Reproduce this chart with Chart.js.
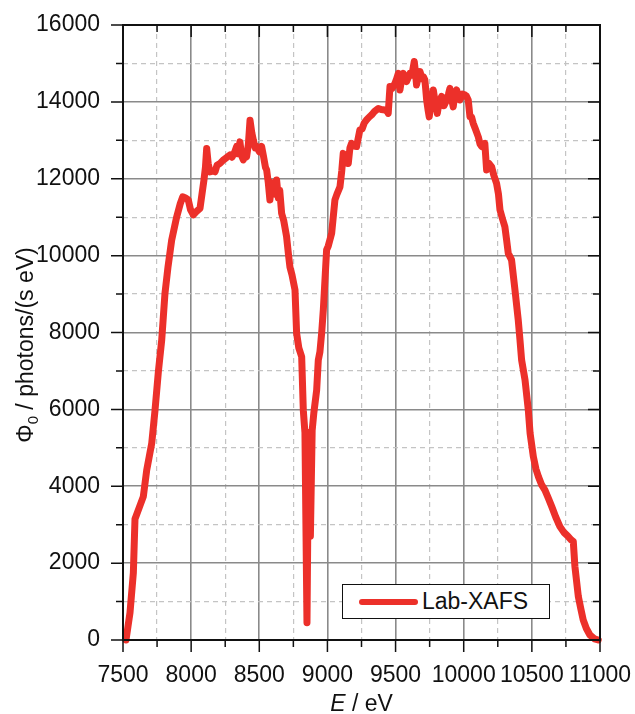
<!DOCTYPE html>
<html>
<head>
<meta charset="utf-8">
<script src="https://cdn.jsdelivr.net/npm/chart.js@4.4.1/dist/chart.umd.min.js"></script>
<style>
  body { margin: 0; background: #fff; }
  #wrap { position: relative; width: 635px; height: 714px; }
  #legend {
    position: absolute; left: 342px; top: 584px; width: 206px; height: 33px;
    border: 1.5px solid #111; background: #fff;
    font: 23px "Liberation Sans", Arial, sans-serif; color: #111;
  }
  #legend .swatch {
    position: absolute; left: 16px; top: 14px; width: 59px; height: 6px;
    border-radius: 3px;
  }
  #legend .txt { position: absolute; left: 79px; top: 3px; }
</style>
</head>
<body>
<div id="wrap">
  <canvas id="myChart" width="635" height="714"></canvas>
  <div id="legend"><span class="swatch"></span><span class="txt"></span></div>
</div>
<script>
// Data: photon energy (eV) and flux
const energy = [
  7522, 7551, 7576, 7588, 7649, 7674, 7711, 7735, 7760, 7784, 7808, 7830, 7857, 7894, 7920, 7938,
  7960, 7979, 7995, 8016, 8040, 8065, 8094, 8105, 8114, 8125, 8138, 8160, 8175, 8190, 8212, 8240,
  8260, 8285, 8300, 8320, 8334, 8345, 8358, 8370, 8383, 8395, 8407, 8420, 8432, 8445, 8456, 8470,
  8481, 8500, 8517, 8530, 8545, 8554, 8566, 8578, 8590, 8603, 8615, 8627, 8640, 8650, 8664, 8680,
  8700, 8715, 8725, 8740, 8762, 8774, 8790, 8811, 8823, 8835, 8850, 8862, 8875, 8888, 8900, 8921,
  8933, 8945, 8958, 8970, 8994, 9006, 9031, 9055, 9070, 9092, 9105, 9116, 9130, 9145, 9153, 9165,
  9177, 9195, 9214, 9238, 9255, 9270, 9287, 9305, 9324, 9345, 9373, 9395, 9422, 9440, 9446, 9459,
  9475, 9495, 9508, 9520, 9532, 9545, 9556, 9570, 9581, 9595, 9605, 9620, 9637, 9645, 9654, 9665,
  9679, 9695, 9705, 9715, 9722, 9728, 9738, 9747, 9760, 9777, 9790, 9806, 9820, 9838, 9855, 9875,
  9888, 9899, 9910, 9923, 9935, 9948, 9960, 9972, 9990, 10009, 10020, 10033, 10046, 10058, 10070, 10085,
  10107, 10120, 10131, 10145, 10155, 10168, 10185, 10205, 10220, 10241, 10255, 10266, 10285, 10302, 10315, 10327,
  10351, 10376, 10400, 10413, 10425, 10450, 10474, 10487, 10511, 10530, 10548, 10570, 10596, 10620, 10646, 10675,
  10706, 10735, 10767, 10790, 10804, 10816, 10841, 10860, 10877, 10900, 10926, 10960, 10987
];
const flux = [
  0, 700, 1750, 3150, 3730, 4420, 5120, 5980, 7000, 7800, 9020, 9700, 10400, 11010, 11350, 11530,
  11500, 11450, 11200, 11060, 11150, 11230, 11970, 12300, 12790, 12400, 12180, 12200, 12180, 12350, 12400, 12500,
  12550, 12620, 12560, 12700, 12840, 12650, 12960, 12600, 12490, 12700, 12570, 12900, 13520, 13200, 13010, 12800,
  12840, 12700, 12840, 12600, 12300, 12230, 11900, 11450, 11900, 11790, 11600, 11970, 11500, 11700, 11100, 10900,
  10500, 10000, 9700, 9500, 9110, 7980, 7600, 7370, 5980, 5400, 450, 5400, 2700, 5450, 5900, 6500,
  7280, 7500, 8000, 8600, 10150, 10250, 10580, 11450, 11600, 11790, 12200, 12660, 12600, 12400, 12400, 12800,
  12920, 12850, 12840, 13270, 13300, 13450, 13530, 13600, 13660, 13750, 13830, 13800, 13790, 13750, 13700, 14400,
  14350, 14480, 14600, 14740, 14310, 14600, 14740, 14600, 14530, 14650, 14740, 14700, 15050, 14800, 14440, 14650,
  14790, 14600, 14650, 14570, 14300, 14050, 13800, 13610, 14000, 14310, 14000, 13700, 14000, 14140, 13900, 14050,
  14200, 14350, 14100, 13870, 14200, 14310, 14150, 14050, 14200, 14180, 14150, 14050, 13610, 13600, 13440, 13300,
  13090, 12900, 12840, 12900, 12920, 12230, 12400, 12310, 12100, 11880, 11600, 11190, 10950, 10750, 10400, 10060,
  9890, 9110, 8330, 7800, 7280, 6760, 5980, 5380, 4770, 4450, 4250, 4050, 3900, 3700, 3470, 3200,
  2950, 2800, 2690, 2600, 2560, 1910, 1130, 800, 520, 300, 130, 30, 0
];
const seriesLabel = 'Lab-XAFS';
const xTicks = { min: 7500, max: 11000, step: 250, labelEvery: 500 };
const yTicks = { min: 0, max: 16000, step: 1000, labelEvery: 2000 };

const red = '#ec302a';
const FONT = '"Liberation Sans", Arial, sans-serif';

const isMajor = (v, every) => Math.abs(v % every) < 1e-6;

// tick marks, frame and axis titles
const framePlugin = {
  id: 'frame',
  afterDraw(chart) {
    const { ctx, chartArea: a, scales: { x, y } } = chart;
    ctx.save();
    ctx.strokeStyle = '#111';
    ctx.lineWidth = 1.5;
    ctx.beginPath();
    for (let v = xTicks.min; v <= xTicks.max; v += xTicks.step) {
      const px = x.getPixelForValue(v);
      const len = isMajor(v, xTicks.labelEvery) ? 12 : 7;
      ctx.moveTo(px, a.bottom); ctx.lineTo(px, a.bottom + len);
      ctx.moveTo(px, a.top); ctx.lineTo(px, a.top + len);
    }
    for (let v = yTicks.min; v <= yTicks.max; v += yTicks.step) {
      const py = y.getPixelForValue(v);
      const len = isMajor(v, yTicks.labelEvery) ? 12 : 7;
      ctx.moveTo(a.left, py); ctx.lineTo(a.left - len, py);
      ctx.moveTo(a.right, py); ctx.lineTo(a.right - len, py);
    }
    ctx.stroke();
    ctx.lineWidth = 2;
    ctx.strokeRect(a.left, a.top, a.right - a.left, a.bottom - a.top);

    ctx.fillStyle = '#111';
    ctx.textBaseline = 'alphabetic';
    // x title: italic E / eV
    ctx.font = 'italic 23px ' + FONT;
    const wE = ctx.measureText('E').width;
    ctx.font = '23px ' + FONT;
    const rest = ' / eV';
    const wR = ctx.measureText(rest).width;
    let sx = (a.left + a.right) / 2 - (wE + wR) / 2;
    ctx.font = 'italic 23px ' + FONT;
    ctx.fillText('E', sx, 711);
    ctx.font = '23px ' + FONT;
    ctx.fillText(rest, sx + wE, 711);

    // y title: Phi_0 / photons/(s eV)
    ctx.rotate(-Math.PI / 2);
    const p1 = 'Φ', sub = '0', p2 = ' / photons/(s eV)';
    ctx.font = '23px ' + FONT;
    const w1 = ctx.measureText(p1).width, w2 = ctx.measureText(p2).width;
    ctx.font = '15px ' + FONT;
    const ws = ctx.measureText(sub).width;
    let lx = -345 - (w1 + ws + w2) / 2;
    const base = 33;
    ctx.font = '23px ' + FONT;
    ctx.fillText(p1, lx, base);
    ctx.font = '15px ' + FONT;
    ctx.fillText(sub, lx + w1, base + 5);
    ctx.font = '23px ' + FONT;
    ctx.fillText(p2, lx + w1 + ws, base);
    ctx.restore();
  }
};

// fixed axis sizes, no automatic label overflow padding
const fitX = (s) => { s.height = 74; s.paddingLeft = 0; s.paddingRight = 0; };
const fitY = (s) => { s.width = 123; s.paddingTop = 0; s.paddingBottom = 0; };

const ctx = document.getElementById('myChart').getContext('2d');
const myChart = new Chart(ctx, {
  type: 'line',
  data: {
    datasets: [{
      label: seriesLabel,
      data: energy.map((e, i) => ({ x: e, y: flux[i] })),
      borderColor: red,
      borderWidth: 7,
      pointRadius: 0,
      tension: 0,
      borderJoinStyle: 'round',
      borderCapStyle: 'round',
      clip: 8
    }]
  },
  options: {
    responsive: false,
    animation: false,
    events: [],
    layout: { padding: { left: 0, right: 35, top: 25, bottom: 0 } },
    plugins: { legend: { display: false }, tooltip: { enabled: false } },
    scales: {
      x: {
        type: 'linear',
        min: xTicks.min, max: xTicks.max,
        afterFit: fitX,
        border: { display: false, dash: (c) => (c.tick && !isMajor(c.tick.value, xTicks.labelEvery)) ? [5, 4] : [] },
        grid: {
          drawTicks: false,
          color: (c) => (c.tick && isMajor(c.tick.value, xTicks.labelEvery)) ? '#8a8a8a' : '#c4c4c4',
          lineWidth: (c) => (c.tick && isMajor(c.tick.value, xTicks.labelEvery)) ? 1.6 : 1.2
        },
        ticks: {
          stepSize: xTicks.step, autoSkip: false, maxRotation: 0, padding: 22,
          color: '#111', font: { family: FONT, size: 23 },
          callback: (v) => isMajor(v, xTicks.labelEvery) ? String(v) : ''
        }
      },
      y: {
        min: yTicks.min, max: yTicks.max,
        afterFit: fitY,
        border: { display: false, dash: (c) => (c.tick && !isMajor(c.tick.value, yTicks.labelEvery)) ? [5, 4] : [] },
        grid: {
          drawTicks: false,
          color: (c) => (c.tick && isMajor(c.tick.value, yTicks.labelEvery)) ? '#8a8a8a' : '#c4c4c4',
          lineWidth: (c) => (c.tick && isMajor(c.tick.value, yTicks.labelEvery)) ? 1.6 : 1.2
        },
        ticks: {
          stepSize: yTicks.step, autoSkip: false, padding: 23,
          color: '#111', font: { family: FONT, size: 23 },
          callback: (v) => isMajor(v, yTicks.labelEvery) ? String(v) : ''
        }
      }
    }
  },
  plugins: [framePlugin]
});

// legend box inside the plot, from the dataset itself
const ds = myChart.data.datasets[0];
document.querySelector('#legend .swatch').style.background = ds.borderColor;
document.querySelector('#legend .txt').textContent = ds.label;
</script>
</body>
</html>
